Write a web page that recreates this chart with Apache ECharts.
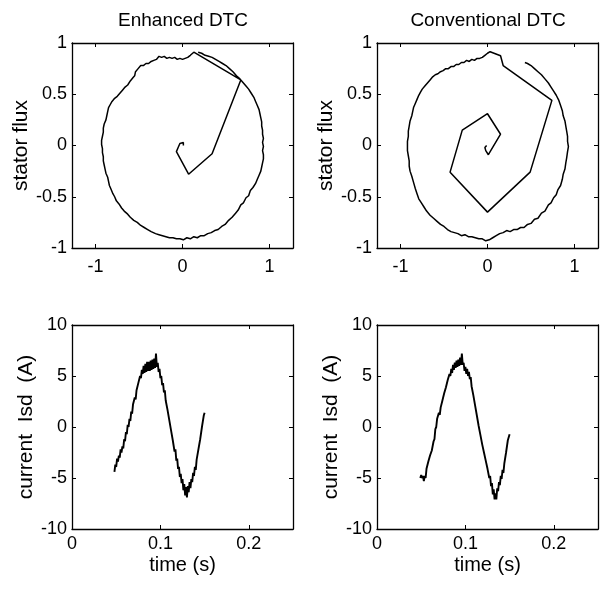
<!DOCTYPE html>
<html>
<head>
<meta charset="utf-8">
<script src="https://cdn.jsdelivr.net/npm/echarts@6/dist/echarts.min.js"></script>
<style>
  html, body { margin: 0; padding: 0; background: #fff; }
  #chart { width: 601px; height: 590px; }
</style>
</head>
<body>
<div id="chart"></div>
<script>
// Panel titles and axis names
const panelTitles = ['Enhanced DTC', 'Conventional DTC'];
const fluxAxisName = 'stator flux';
const currentAxisName = 'current  Isd  (A)';
const timeAxisName = 'time (s)';

// Tick values
const fluxXTicks = [-1, 0, 1];
const timeTicks = [0, 0.1, 0.2];

// Stator flux trajectory, enhanced DTC: [d, q]
const fluxEnhanced = [
  [0.01,0.0],[0.01,0.03],[0.0,0.04],[-0.03,0.02],[-0.05,-0.02],[-0.07,-0.06],[0.07,-0.28],[0.34,-0.08],[0.67,0.64],[0.13,0.91],
  [0.11,0.90],[0.09,0.88],[0.06,0.86],[0.03,0.85],[0.0,0.84],[-0.03,0.85],[-0.06,0.84],[-0.09,0.86],[-0.12,0.85],[-0.15,0.86],
  [-0.18,0.85],[-0.21,0.87],[-0.24,0.86],[-0.27,0.87],[-0.30,0.84],[-0.33,0.83],[-0.36,0.82],[-0.39,0.80],[-0.42,0.80],[-0.45,0.78],
  [-0.48,0.78],[-0.51,0.75],[-0.54,0.72],[-0.55,0.68],[-0.57,0.66],[-0.60,0.63],[-0.61,0.64],[-0.63,0.59],[-0.66,0.57],[-0.69,0.54],
  [-0.72,0.51],[-0.75,0.48],[-0.78,0.46],[-0.81,0.43],[-0.83,0.40],[-0.85,0.37],[-0.86,0.33],[-0.87,0.29],[-0.88,0.25],[-0.90,0.21],
  [-0.91,0.17],[-0.91,0.13],[-0.92,0.09],[-0.93,0.05],[-0.93,0.01],[-0.92,-0.03],[-0.92,-0.07],[-0.91,-0.11],[-0.91,-0.15],[-0.90,-0.19],
  [-0.89,-0.23],[-0.88,-0.27],[-0.86,-0.31],[-0.85,-0.35],[-0.84,-0.39],[-0.82,-0.43],[-0.80,-0.47],[-0.78,-0.50],[-0.76,-0.54],[-0.73,-0.57],
  [-0.70,-0.61],[-0.67,-0.64],[-0.63,-0.67],[-0.60,-0.70],[-0.56,-0.73],[-0.52,-0.75],[-0.48,-0.78],[-0.44,-0.80],[-0.40,-0.82],[-0.36,-0.84],
  [-0.31,-0.86],[-0.27,-0.87],[-0.23,-0.88],[-0.19,-0.89],[-0.15,-0.90],[-0.11,-0.90],[-0.07,-0.91],[-0.03,-0.91],[0.01,-0.92],[0.05,-0.90],
  [0.09,-0.91],[0.13,-0.89],[0.17,-0.90],[0.21,-0.88],[0.25,-0.88],[0.29,-0.86],[0.33,-0.85],[0.37,-0.83],[0.41,-0.82],[0.45,-0.79],
  [0.49,-0.77],[0.53,-0.73],[0.57,-0.70],[0.61,-0.66],[0.64,-0.63],[0.67,-0.58],[0.70,-0.56],[0.73,-0.51],[0.76,-0.49],[0.78,-0.44],
  [0.81,-0.41],[0.84,-0.37],[0.86,-0.33],[0.88,-0.29],[0.90,-0.25],[0.91,-0.21],[0.92,-0.17],[0.93,-0.13],[0.93,-0.09],[0.92,-0.05],
  [0.93,-0.01],[0.92,0.03],[0.93,0.07],[0.92,0.11],[0.92,0.15],[0.91,0.19],[0.91,0.23],[0.90,0.27],[0.89,0.31],[0.88,0.35],
  [0.86,0.39],[0.84,0.43],[0.82,0.47],[0.79,0.51],[0.76,0.55],[0.73,0.58],[0.69,0.62],[0.66,0.65],[0.62,0.68],[0.58,0.72],
  [0.54,0.75],[0.50,0.78],[0.46,0.80],[0.42,0.82],[0.38,0.84],[0.34,0.86],[0.30,0.87],[0.26,0.88],[0.22,0.90],[0.18,0.91]
];

// Stator flux trajectory, conventional DTC: [d, q]
const fluxConventional = [
  [-0.01,0.0],[-0.03,-0.02],[-0.02,-0.05],[0.01,-0.09],[0.15,0.11],[0.0,0.31],[-0.29,0.15],[-0.43,-0.26],[0.0,-0.65],[0.49,-0.26],
  [0.74,0.44],[0.18,0.78],[0.15,0.875],[0.03,0.915],
  [0.0,0.90],[-0.03,0.88],[-0.06,0.86],[-0.09,0.85],[-0.12,0.85],[-0.15,0.83],[-0.18,0.84],[-0.21,0.82],[-0.24,0.83],[-0.27,0.81],
  [-0.30,0.81],[-0.33,0.79],[-0.36,0.79],[-0.39,0.77],[-0.42,0.77],[-0.45,0.75],[-0.48,0.75],[-0.51,0.73],[-0.54,0.72],[-0.57,0.70],
  [-0.60,0.69],[-0.63,0.67],[-0.66,0.64],[-0.69,0.61],[-0.72,0.58],[-0.75,0.55],[-0.77,0.52],[-0.79,0.49],[-0.81,0.45],[-0.83,0.41],
  [-0.85,0.37],[-0.86,0.33],[-0.87,0.29],[-0.89,0.24],[-0.90,0.19],[-0.91,0.14],[-0.91,0.09],[-0.92,0.04],[-0.92,0.0],[-0.92,-0.05],
  [-0.91,-0.10],[-0.90,-0.15],[-0.90,-0.20],[-0.89,-0.25],[-0.87,-0.30],[-0.85,-0.36],[-0.83,-0.42],[-0.81,-0.47],[-0.79,-0.52],[-0.76,-0.56],
  [-0.73,-0.60],[-0.70,-0.64],[-0.66,-0.68],[-0.62,-0.71],[-0.58,-0.74],[-0.54,-0.77],[-0.50,-0.79],[-0.46,-0.82],[-0.42,-0.84],[-0.38,-0.85],
  [-0.34,-0.86],[-0.30,-0.88],[-0.26,-0.87],[-0.22,-0.89],[-0.18,-0.89],[-0.14,-0.90],[-0.10,-0.91],[-0.06,-0.91],[-0.02,-0.93],[0.02,-0.92],
  [0.06,-0.90],[0.10,-0.88],[0.14,-0.86],[0.18,-0.85],[0.22,-0.83],[0.26,-0.84],[0.30,-0.82],[0.34,-0.82],[0.38,-0.80],[0.42,-0.80],
  [0.46,-0.77],[0.50,-0.76],[0.54,-0.72],[0.58,-0.71],[0.62,-0.66],[0.66,-0.64],[0.70,-0.58],[0.73,-0.56],[0.76,-0.51],[0.79,-0.48],
  [0.81,-0.43],[0.84,-0.39],[0.86,-0.33],[0.87,-0.28],[0.89,-0.23],[0.90,-0.17],[0.91,-0.12],[0.92,-0.06],[0.93,-0.01],[0.92,0.04],
  [0.92,0.09],[0.91,0.14],[0.90,0.19],[0.89,0.24],[0.87,0.29],[0.86,0.34],[0.84,0.39],[0.82,0.44],[0.79,0.49],[0.76,0.53],
  [0.73,0.57],[0.70,0.61],[0.66,0.65],[0.62,0.69],[0.58,0.72],[0.54,0.75],[0.50,0.78],[0.46,0.80],[0.43,0.81]
];

// Current Isd, enhanced DTC
const timeEnhanced = [
  0.048,0.049,0.050,0.051,0.052,0.053,0.054,0.055,0.056,0.057,
  0.058,0.059,0.060,0.061,0.062,0.063,0.064,0.065,0.066,0.067,
  0.068,0.069,0.070,0.071,0.072,0.073,0.074,0.075,0.076,0.077,
  0.078,0.079,0.080,0.081,0.082,0.083,0.084,0.085,0.086,0.087,
  0.088,0.089,0.090,0.091,0.092,0.093,0.094,0.095,0.096,0.097,
  0.098,0.099,0.100,0.101,0.102,0.103,0.104,0.105,0.106,0.107,
  0.108,0.109,0.110,0.111,0.112,0.113,0.114,0.115,0.116,0.117,
  0.118,0.119,0.120,0.121,0.122,0.123,0.124,0.125,0.126,0.127,
  0.128,0.129,0.130,0.131,0.132,0.133,0.134,0.135,0.136,0.137,
  0.138,0.139,0.140,0.141,0.142,0.143,0.144,0.145,0.146,0.147,
  0.148,0.149,0.150
];
const currentEnhanced = [
  -4.4,-3.7,-3.9,-3.1,-3.4,-2.8,-3.0,-2.2,-2.5,-1.9,
  -2.1,-1.2,-1.4,-0.5,-0.7,0.2,0.0,0.8,0.6,1.5,
  1.3,2.2,2.1,2.9,2.7,3.6,3.5,4.3,4.2,5.0,
  4.8,5.6,5.2,6.0,5.3,6.2,5.4,6.4,5.5,6.4,
  5.5,6.5,5.6,6.6,5.7,6.7,5.8,7.2,5.9,6.3,
  5.4,5.7,4.8,5.0,4.1,4.3,3.4,3.6,2.6,2.7,
  1.7,1.8,0.7,0.8,-0.3,-0.2,-1.3,-1.3,-2.4,-2.2,
  -3.3,-3.1,-4.1,-3.9,-4.9,-4.6,-5.5,-5.1,-6.2,-5.6,
  -6.7,-5.9,-6.9,-5.8,-6.4,-5.4,-6.0,-5.1,-5.4,-4.5,
  -4.8,-3.9,-4.2,-3.2,-3.3,-2.2,-2.3,-1.2,-1.2,0.0,
  0.0,1.1,1.4
];

// Current Isd, conventional DTC
const timeConventional = [
  0.049,0.050,0.051,0.052,0.053,0.054,0.055,0.056,0.057,0.058,
  0.059,0.060,0.061,0.062,0.063,0.064,0.065,0.066,0.067,0.068,
  0.069,0.070,0.071,0.072,0.073,0.074,0.075,0.076,0.077,0.078,
  0.079,0.080,0.081,0.082,0.083,0.084,0.085,0.086,0.087,0.088,
  0.089,0.090,0.091,0.092,0.093,0.094,0.095,0.096,0.097,0.098,
  0.099,0.100,0.101,0.102,0.103,0.104,0.105,0.106,0.107,0.108,
  0.109,0.110,0.111,0.112,0.113,0.114,0.115,0.116,0.117,0.118,
  0.119,0.120,0.121,0.122,0.123,0.124,0.125,0.126,0.127,0.128,
  0.129,0.130,0.131,0.132,0.133,0.134,0.135,0.136,0.137,0.138,
  0.139,0.140,0.141,0.142,0.143,0.144,0.145,0.146,0.147,0.148,
  0.149,0.150
];
const currentConventional = [
  -5.0,-4.7,-5.0,-4.8,-5.3,-4.8,-5.0,-4.1,-4.1,-3.4,
  -3.5,-2.8,-2.9,-2.3,-2.4,-1.4,-1.2,-0.2,0.0,0.8,
  0.8,1.4,1.2,1.9,1.8,2.6,2.5,3.3,3.2,3.9,
  3.9,4.6,4.5,5.2,5.0,5.7,5.3,6.1,5.6,6.3,
  5.8,6.5,5.9,6.6,6.0,6.8,6.1,7.2,6.1,6.3,
  5.5,5.9,5.2,5.7,5.0,5.4,4.7,4.9,4.0,4.0,
  3.1,3.1,2.1,2.1,1.1,1.1,0.1,0.1,-0.8,-0.8,
  -1.7,-1.6,-2.5,-2.4,-3.3,-3.2,-4.1,-4.0,-5.0,-4.8,
  -5.8,-5.5,-6.6,-6.1,-7.1,-6.5,-7.1,-6.0,-6.3,-5.4,
  -5.7,-4.8,-5.1,-4.2,-4.5,-3.6,-3.7,-2.5,-2.5,-1.3,
  -1.3,-0.7
];

const FONT = '"Liberation Sans", Arial, Helvetica, sans-serif';

// Plot boxes (left, top, width, height) for the 2x2 layout
const boxes = [
  { left: 72,  top: 43,  width: 221, height: 205 },
  { left: 377, top: 43,  width: 221, height: 205 },
  { left: 72,  top: 325, width: 221, height: 204 },
  { left: 377, top: 325, width: 221, height: 204 }
];

const lineCommon = { show: true, lineStyle: { color: '#000', width: 1.3 } };
const tickCommon = { show: true, inside: true, length: 4, lineStyle: { color: '#000', width: 1 } };

function xAxes(grid, opts) {
  const bottom = {
    type: 'value', gridIndex: grid, position: 'bottom',
    min: opts.min, max: opts.max,
    axisLine: Object.assign({ onZero: false }, lineCommon),
    axisTick: Object.assign({ customValues: opts.ticks }, tickCommon),
    axisLabel: { customValues: opts.ticks, color: '#000', fontFamily: FONT, fontSize: 18, margin: opts.labelMargin },
    splitLine: { show: false }
  };
  if (opts.name) {
    Object.assign(bottom, {
      name: opts.name, nameLocation: 'middle', nameGap: opts.nameGap,
      nameTextStyle: { color: '#000', fontFamily: FONT, fontSize: 20 }
    });
  }
  const top = {
    type: 'value', gridIndex: grid, position: 'top',
    min: opts.min, max: opts.max,
    axisLine: Object.assign({ onZero: false }, lineCommon),
    axisTick: Object.assign({ customValues: opts.ticks }, tickCommon),
    axisLabel: { show: false },
    splitLine: { show: false }
  };
  return [bottom, top];
}

function yAxes(grid, opts) {
  const left = {
    type: 'value', gridIndex: grid, position: 'left',
    min: opts.min, max: opts.max, interval: opts.interval,
    axisLine: Object.assign({ onZero: false }, lineCommon),
    axisTick: tickCommon,
    axisLabel: { color: '#000', fontFamily: FONT, fontSize: 18, margin: 5 },
    splitLine: { show: false },
    name: opts.name, nameLocation: 'middle', nameGap: opts.nameGap,
    nameTextStyle: { color: '#000', fontFamily: FONT, fontSize: 21 }
  };
  const right = {
    type: 'value', gridIndex: grid, position: 'right',
    min: opts.min, max: opts.max, interval: opts.interval,
    axisLine: Object.assign({ onZero: false }, lineCommon),
    axisTick: tickCommon,
    axisLabel: { show: false },
    splitLine: { show: false }
  };
  return [left, right];
}

const fluxX = { min: -1.27, max: 1.27, ticks: fluxXTicks, labelMargin: 10 };
const timeX = { min: 0, max: 0.25, ticks: timeTicks, labelMargin: 6, name: timeAxisName, nameGap: 26 };
const fluxY = { min: -1, max: 1, interval: 0.5, name: fluxAxisName, nameGap: 34 };
const curY = { min: -10, max: 10, interval: 5, name: currentAxisName, nameGap: 34 };

const xAxis = [].concat(xAxes(0, fluxX), xAxes(1, fluxX), xAxes(2, timeX), xAxes(3, timeX));
const yAxis = [].concat(yAxes(0, fluxY), yAxes(1, fluxY), yAxes(2, curY), yAxes(3, curY));

function zip(a, b) { return a.map((v, i) => [v, b[i]]); }

function lineSeries(idx, data, width) {
  return {
    type: 'line', xAxisIndex: idx * 2, yAxisIndex: idx * 2,
    data: data, showSymbol: false, symbol: 'none', smooth: false,
    lineStyle: { color: '#000', width: width },
    silent: true, clip: true
  };
}

const titleStyle = { color: '#000', fontFamily: FONT, fontSize: 19, fontWeight: 'normal' };

const chart = echarts.init(document.getElementById('chart'), null, { renderer: 'canvas' });
chart.setOption({
  animation: false,
  backgroundColor: '#fff',
  title: [
    { text: panelTitles[0], left: 183, top: 11, textAlign: 'center', padding: 0, textStyle: titleStyle },
    { text: panelTitles[1], left: 488, top: 11, textAlign: 'center', padding: 0, textStyle: titleStyle }
  ],
  grid: boxes.map(b => Object.assign({ outerBoundsMode: 'none', containLabel: false }, b)),
  xAxis: xAxis,
  yAxis: yAxis,
  series: [
    lineSeries(0, fluxEnhanced, 1.5),
    lineSeries(1, fluxConventional, 1.5),
    lineSeries(2, zip(timeEnhanced, currentEnhanced), 1.9),
    lineSeries(3, zip(timeConventional, currentConventional), 1.9)
  ]
});
</script>
</body>
</html>
